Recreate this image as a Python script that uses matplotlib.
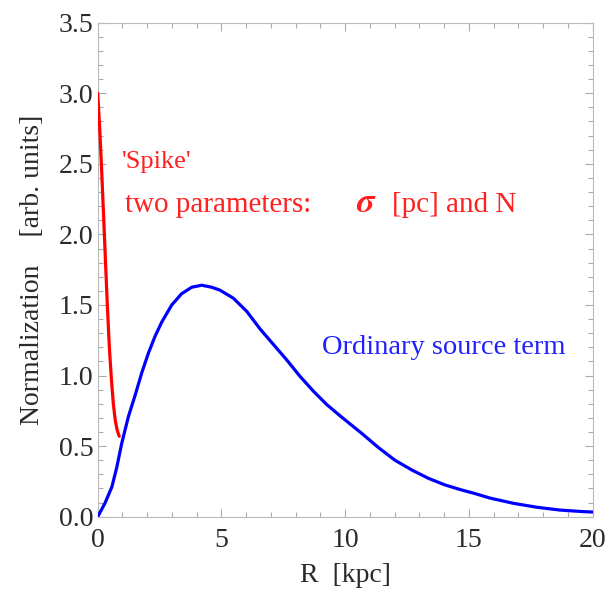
import numpy as np
import matplotlib as mpl
mpl.rcParams['font.family'] = 'serif'
mpl.rcParams['font.serif'] = ['Liberation Serif', 'DejaVu Serif']
mpl.rcParams['mathtext.fontset'] = 'stix'
import matplotlib.pyplot as plt
from matplotlib.ticker import MultipleLocator

# ordinary source term (blue)
r_ord = [0.0, 0.29, 0.57, 0.77, 0.97, 1.24, 1.51, 1.78, 2.05, 2.32, 2.59, 2.99,
         3.39, 3.8, 4.2, 4.6, 4.94, 5.48, 6.02, 6.56, 7.1, 7.64, 8.17, 8.71,
         9.25, 9.79, 10.19, 10.67, 11.34, 12.01, 12.69, 13.36, 14.03, 14.71,
         15.18, 15.85, 16.79, 17.74, 18.68, 19.62, 20.0]
v_ord = [0.0, 0.095, 0.21, 0.35, 0.52, 0.71, 0.86, 1.02, 1.16, 1.28, 1.38, 1.50,
         1.58, 1.626, 1.64, 1.626, 1.605, 1.548, 1.455, 1.33, 1.22, 1.11, 0.995,
         0.89, 0.795, 0.715, 0.658, 0.59, 0.49, 0.40, 0.331, 0.272, 0.225, 0.189,
         0.167, 0.132, 0.095, 0.067, 0.047, 0.036, 0.033]

# spike (red)
r_spk = [0.0, 0.08, 0.16, 0.24, 0.32, 0.4, 0.47, 0.55, 0.63, 0.71, 0.79, 0.87]
v_spk = [3.0, 2.75, 2.45, 2.12, 1.78, 1.45, 1.2, 0.98, 0.8, 0.68, 0.61, 0.57]

xticks = [0, 5, 10, 15, 20]
yticks = [0.0, 0.5, 1.0, 1.5, 2.0, 2.5, 3.0, 3.5]

fig = plt.figure(figsize=(6.07, 5.91), dpi=100, facecolor='w')
ax = fig.add_axes([0.161, 0.1257, 0.8155, 0.8359])

ax.plot(r_ord, v_ord, color='#0000ff', lw=2.3, solid_capstyle='round',
        solid_joinstyle='round', zorder=3)
ax.plot(r_spk, v_spk, color='#ff0000', lw=2.3, solid_capstyle='round',
        solid_joinstyle='round', zorder=4)

ax.set_xlim(0, 20)
ax.set_ylim(0, 3.5)
ax.set_xticks(xticks)
ax.set_xticklabels([str(t) for t in xticks])
ax.set_yticks(yticks)
ax.set_yticklabels(['%.1f' % t for t in yticks])
ax.xaxis.set_minor_locator(MultipleLocator(1))
ax.yaxis.set_minor_locator(MultipleLocator(0.1))
ax.tick_params(which='both', direction='in', top=True, right=True,
               color='#aaaaaa', width=0.8, labelsize=20, labelcolor='#2a2a2a')
ax.tick_params(axis='x', which='major', pad=8)
ax.tick_params(axis='y', which='major', pad=3)
ax.tick_params(which='major', length=6)
ax.tick_params(which='minor', length=3.5)
for s in ax.spines.values():
    s.set_color('#bbbbbb')
    s.set_linewidth(0.8)

ax.set_xlabel('R  [kpc]', fontsize=20, color='#2a2a2a', labelpad=7)
ax.set_ylabel('Normalization    [arb. units]', fontsize=20, color='#2a2a2a',
              labelpad=10)

ax.text(0.97, 2.51, "'Spike'", color='#ff2020', fontsize=19, va='center', ha='left')
ax.text(1.10, 2.21, "two parameters:", color='#ff2020', fontsize=21, va='center', ha='left')
ax.text(10.45, 2.22, r"$\boldsymbol{\sigma}$", color='#ff2020', fontsize=25,
        va='center', ha='left')
ax.text(11.9, 2.21, "[pc] and N", color='#ff2020', fontsize=21, va='center', ha='left')
ax.text(9.05, 1.196, "Ordinary source term", color='#2020ff', fontsize=20.5,
        va='center', ha='left')

fig.savefig('out.png', dpi=100, facecolor='w')
